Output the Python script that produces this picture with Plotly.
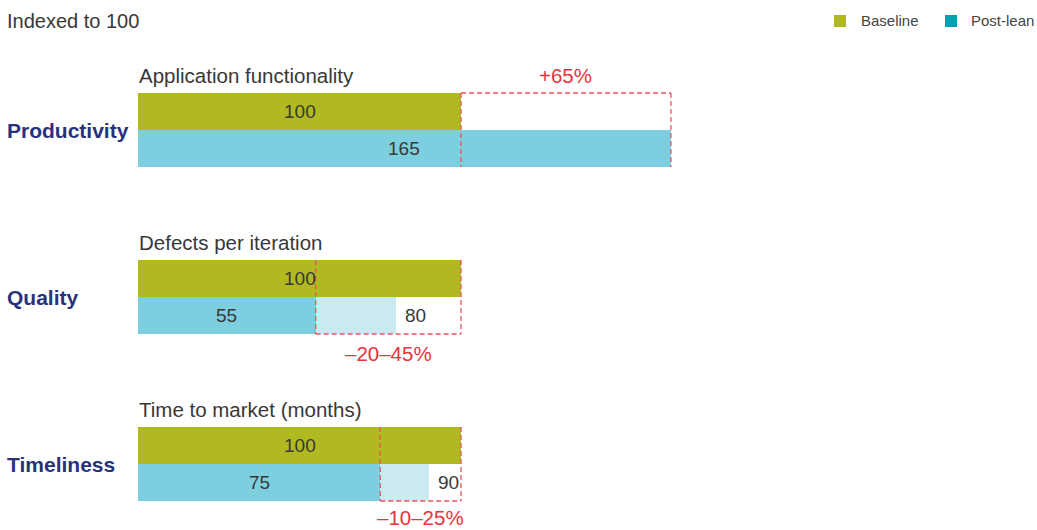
import plotly.graph_objects as go

# ---- data -------------------------------------------------------------
categories = ["Productivity", "Quality", "Timeliness"]
metrics = ["Application functionality", "Defects per iteration", "Time to market (months)"]
baseline = [100, 100, 100]
post_lean_low = [165, 55, 75]
post_lean_high = [165, 80, 90]
change_labels = ["+65%", "\u201320\u201345%", "\u201310\u201325%"]

# ---- styling / layout constants ----------------------------------------
W, H = 1037, 530
X0_PX = 138          # pixel position of value 0
PX_PER_UNIT = 3.23   # horizontal scale
GROUP_TOP = 93       # top of first baseline bar (px)
GROUP_STEP = 167     # vertical distance between groups (px)
BAR_H = 37           # bar thickness (px)

OLIVE = "#b0b91f"
BLUE = "#7dcfe0"
BLUE_LIGHT = "#cbe9f0"
TEAL = "#00a0b0"
NAVY = "#27327c"
RED_TXT = "#e8333d"
RED_LINE = "#e8555d"
TXT = "#383838"
FONT = "Liberation Sans, Arial, sans-serif"

tops = [GROUP_TOP + i * GROUP_STEP for i in range(len(categories))]
y_base = [t + BAR_H / 2 for t in tops]
y_post = [t + BAR_H * 1.5 for t in tops]

fig = go.Figure()

# baseline bars
fig.add_trace(go.Bar(
    orientation="h", x=baseline, y=y_base, width=BAR_H,
    marker=dict(color=OLIVE, line=dict(width=0)), hoverinfo="skip"))

# post-lean bars (lower bound)
fig.add_trace(go.Bar(
    orientation="h", x=post_lean_low, y=y_post, width=BAR_H,
    marker=dict(color=BLUE, line=dict(width=0)), hoverinfo="skip"))

# post-lean ranges (lower -> upper bound)
rng = [(lo, hi, y) for lo, hi, y in zip(post_lean_low, post_lean_high, y_post) if hi != lo]
fig.add_trace(go.Bar(
    orientation="h",
    x=[hi - lo for lo, hi, _ in rng],
    base=[lo for lo, _, _ in rng],
    y=[y for _, _, y in rng], width=BAR_H,
    marker=dict(color=BLUE_LIGHT, line=dict(width=0)), hoverinfo="skip"))

annotations = []
shapes = []


def note(x, y, text, size=19, color=TXT, xanchor="center", xref="x", yref="y",
         bold=False, xshift=0, pad=1):
    if bold:
        text = "<b>" + text + "</b>"
    annotations.append(dict(
        x=x, y=y, xref=xref, yref=yref, text=text, showarrow=False,
        xanchor=xanchor, yanchor="middle", xshift=xshift, borderpad=pad,
        font=dict(family=FONT, size=size, color=color)))


def dashed(x0, y0, x1, y1):
    shapes.append(dict(
        type="line", xref="x", yref="y", x0=x0, y0=y0, x1=x1, y1=y1,
        line=dict(color=RED_LINE, width=1.3, dash="5px,3px"), layer="above"))


for i, cat in enumerate(categories):
    top = tops[i]
    bottom = top + 2 * BAR_H
    b, lo, hi = baseline[i], post_lean_low[i], post_lean_high[i]

    # group label and metric title
    note(0, top + BAR_H, cat, size=21, color=NAVY, xanchor="left",
         xref="paper", bold=True, xshift=5)
    note(0, top - 18, metrics[i], size=20.5, xanchor="left", xshift=-1)

    # value labels
    note(b / 2, y_base[i], str(b))
    note(lo / 2, y_post[i], str(lo))
    if hi != lo:
        note(hi, y_post[i], str(hi), xanchor="left", xshift=7)

    # dashed change box
    x0, x1 = min(b, lo), max(b, hi)
    dashed(x0, top, x0, bottom)
    dashed(x1, top, x1, bottom)
    if hi > b:
        dashed(x0, top, x1, top)
        note((x0 + x1) / 2, top - 18, change_labels[i], size=20.5, color=RED_TXT)
    else:
        dashed(x0, bottom, x1, bottom)
        # keep the label inside the canvas for the lowest group
        note((x0 + x1) / 2, min(bottom + 19, H - 13), change_labels[i],
             size=20.5, color=RED_TXT, pad=0)

# header
note(0, 1 - 21 / H, "Indexed to 100", size=20, xanchor="left", xref="paper",
     yref="paper", xshift=5)

# legend
for sx, tx, label, col in [(834, 861, "Baseline", OLIVE), (945, 971, "Post-lean", TEAL)]:
    shapes.append(dict(type="rect", xref="paper", yref="paper",
                       x0=sx / W, x1=(sx + 12) / W, y0=1 - 27 / H, y1=1 - 15 / H,
                       fillcolor=col, line=dict(width=0)))
    note(tx / W, 1 - 21 / H, label, size=15, color="#444444", xanchor="left",
         xref="paper", yref="paper", xshift=-2)

fig.update_layout(
    width=W, height=H,
    margin=dict(l=0, r=0, t=0, b=0),
    paper_bgcolor="white", plot_bgcolor="white",
    barmode="overlay", bargap=0, showlegend=False,
    xaxis=dict(range=[-X0_PX / PX_PER_UNIT, (W - X0_PX) / PX_PER_UNIT],
               visible=False, fixedrange=True),
    yaxis=dict(range=[H, 0], visible=False, fixedrange=True),
    annotations=annotations, shapes=shapes,
)

fig.write_html("out.html")
